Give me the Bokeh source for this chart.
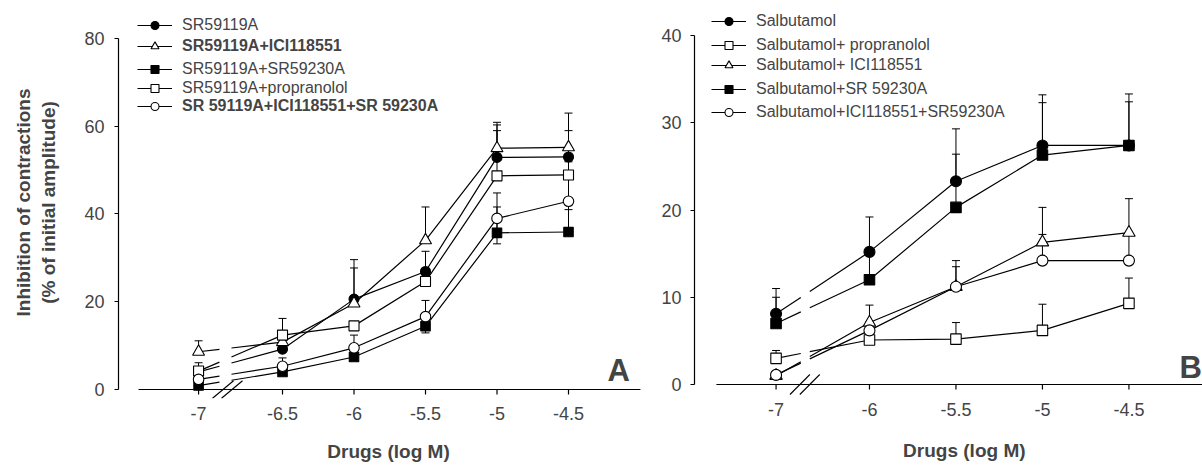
from bokeh.plotting import figure
from bokeh.models import (ColumnDataSource, Whisker, TeeHead, FixedTicker,
                          Legend, LegendItem, Label)
from bokeh.layouts import row
from bokeh.embed import file_html
from bokeh.resources import INLINE

FONT = "Liberation Sans"

# ---------------- Panel A data ----------------
doses_a = [-7, -6.5, -6, -5.5, -5, -4.5]
tick_labels_a = ["-7", "-6.5", "-6", "-5.5", "-5", "-4.5"]
yticks_a = [0, 20, 40, 60, 80]
names_a = ["SR59119A", "SR59119A+ICI118551", "SR59119A+SR59230A",
           "SR59119A+propranolol", "SR 59119A+ICI118551+SR 59230A"]
sr = [4.0, 9.2, 20.6, 26.9, 52.9, 53.0]
sr_err = [0.5, 1.0, 9.0, 4.6, 7.4, 6.0]
sr_ici = [8.6, 10.8, 19.6, 34.0, 55.0, 55.2]
sr_ici_err = [2.5, 1.0, 8.1, 7.6, 5.9, 7.8]
sr_sr = [0.9, 4.0, 7.4, 14.4, 35.7, 35.9]
sr_sr_err = [0.5, 0.5, 0.8, 1.0, 5.9, 5.1]
sr_prop = [4.2, 12.4, 14.5, 24.6, 48.7, 48.9]
sr_prop_err = [1.9, 3.8, 1.0, 1.5, 10.3, 3.0]
sr_ici_sr = [2.3, 5.3, 9.5, 16.6, 39.0, 42.9]
sr_ici_sr_err = [0.5, 1.9, 2.9, 3.7, 5.8, 6.0]

# ---------------- Panel B data ----------------
doses_b = [-7, -6, -5.5, -5, -4.5]
tick_labels_b = ["-7", "-6", "-5.5", "-5", "-4.5"]
yticks_b = [0, 10, 20, 30, 40]
names_b = ["Salbutamol", "Salbutamol+ propranolol", "Salbutamol+ ICI118551",
           "Salbutamol+SR 59230A", "Salbutamol+ICI118551+SR59230A"]
salb = [8.1, 15.2, 23.3, 27.4, 27.4]
salb_err = [2.9, 4.0, 6.0, 5.8, 5.9]
salb_prop = [3.0, 5.1, 5.2, 6.2, 9.3]
salb_prop_err = [0.9, 0.5, 1.9, 3.0, 2.9]
salb_ici = [1.0, 7.1, 11.2, 16.3, 17.4]
salb_ici_err = [0.5, 2.0, 3.0, 4.0, 3.9]
salb_sr = [7.0, 12.0, 20.3, 26.3, 27.4]
salb_sr_err = [3.0, 3.0, 6.1, 6.0, 5.0]
salb_ici_sr = [1.1, 6.2, 11.2, 14.2, 14.2]
salb_ici_sr_err = [0.3, 1.0, 2.3, 3.0, 3.0]

X_TITLE = "Drugs (log M)"
Y_TITLE = "Inhibition of contractions\n(% of initial amplitude)"
NBSP = "\u00a0"


def shown(doses, first_pos):
    # broken axis: the lowest dose is drawn at first_pos
    return [first_pos if d == doses[0] else d for d in doses]


def gapped(xs, ys, g0, g1):
    x0, x1, y0, y1 = xs[0], xs[1], ys[0], ys[1]
    ya = y0 + (y1 - y0) * (g0 - x0) / (x1 - x0)
    yb = y0 + (y1 - y0) * (g1 - x0) / (x1 - x0)
    return [[x0, g0], [g1] + xs[1:]], [[y0, ya], [yb] + list(ys[1:])]


def make_panel(width, height, xr, yr, mb_left, mb_right, mb_bottom,
               doses, tick_labels, yticks, first_pos, gap, axis_span,
               tick_len, slash_cx, slash_dx, slash_dy,
               series, names, bold, sizes, leg_x, leg_y, ylabel,
               y_standoff, tick_standoff, xtitle, title_standoff,
               letter, letter_xy):
    p = figure(width=width, height=height, x_range=xr, y_range=yr,
               output_backend="svg", toolbar_location=None, tools="",
               min_border_left=mb_left, min_border_right=mb_right,
               min_border_top=6, min_border_bottom=mb_bottom)
    p.xgrid.visible = False
    p.ygrid.visible = False
    p.outline_line_color = None
    p.background_fill_color = "white"
    p.border_fill_color = "white"

    xs = shown(doses, first_pos)

    # y axis
    ya = p.yaxis[0]
    ya.ticker = FixedTicker(ticks=yticks)
    ya.major_label_overrides = {t: str(t) for t in yticks}
    ya.bounds = (yticks[0], yticks[-1])
    ya.axis_line_width = 1.2
    ya.major_tick_out = 4
    ya.major_tick_in = 0
    ya.major_tick_line_width = 1.2
    ya.minor_tick_line_color = None
    ya.major_label_standoff = y_standoff
    ya.major_label_text_font = FONT
    ya.major_label_text_font_size = "18px"
    if ylabel:
        ya.axis_label = ylabel
        ya.axis_label_text_font = FONT
        ya.axis_label_text_font_size = "19px"
        ya.axis_label_text_font_style = "bold"
        ya.axis_label_standoff = 22

    # x axis (labels by Bokeh, rule drawn at y = 0)
    xa = p.xaxis[0]
    xa.ticker = FixedTicker(ticks=xs)
    xa.major_label_overrides = {x: lab for x, lab in zip(xs, tick_labels)}
    xa.axis_line_color = None
    xa.major_tick_line_color = None
    xa.major_tick_out = 0
    xa.major_tick_in = 0
    xa.minor_tick_line_color = None
    xa.major_label_standoff = tick_standoff
    xa.major_label_text_font = FONT
    xa.major_label_text_font_size = "18px"
    xa.axis_label = xtitle
    xa.axis_label_text_font = FONT
    xa.axis_label_text_font_size = "19px"
    xa.axis_label_text_font_style = "bold"
    xa.axis_label_standoff = title_standoff

    p.segment(x0=[axis_span[0]], y0=[0], x1=[axis_span[1]], y1=[0],
              line_color="black", line_width=1.2)
    p.segment(x0=xs, y0=[0] * len(xs), x1=xs, y1=[-tick_len] * len(xs),
              line_color="black", line_width=1.2)
    # axis break marks
    p.segment(x0=[c - slash_dx for c in slash_cx], y0=[-slash_dy] * 2,
              x1=[c + slash_dx for c in slash_cx], y1=[slash_dy] * 2,
              line_color="black", line_width=1.1)

    renderers = []
    for (vals, errs, marker, fill, two_sided), size in zip(series, sizes):
        upper = [v + e for v, e in zip(vals, errs)]
        lower = [v - e for v, e in zip(vals, errs)] if two_sided else list(vals)
        src = ColumnDataSource(dict(x=xs, lower=lower, upper=upper))
        w = Whisker(source=src, base="x", lower="lower", upper="upper",
                    line_color="black", line_width=1,
                    upper_head=TeeHead(size=8, line_color="black", line_width=1),
                    lower_head=(TeeHead(size=8, line_color="black", line_width=1)
                                if two_sided else None))
        p.add_layout(w)
        mxs, mys = gapped(xs, vals, gap[0], gap[1])
        lr = p.multi_line(xs=mxs, ys=mys, line_color="black", line_width=1.2)
        renderers.append((lr, vals, marker, fill, size))

    scat = []
    for lr, vals, marker, fill, size in renderers:
        s_r = p.scatter(xs, vals, marker=marker, size=size, fill_color=fill,
                        line_color="black", line_width=1.1)
        scat.append((lr, s_r))

    for i, name in enumerate(names):
        lr, s_r = scat[i]
        leg = Legend(items=[LegendItem(label=name, renderers=[lr, s_r])],
                     location=(leg_x, leg_y[i]), padding=0, margin=0, spacing=0,
                     border_line_color=None, background_fill_alpha=0,
                     glyph_width=35, glyph_height=20, label_height=20,
                     label_standoff=10, label_text_font=FONT,
                     label_text_font_size="16px",
                     label_text_font_style="bold" if bold[i] else "normal",
                     label_text_baseline="middle")
        p.add_layout(leg, "center")

    p.add_layout(Label(x=letter_xy[0], y=letter_xy[1], text=letter,
                       text_font=FONT, text_font_size="31px",
                       text_font_style="bold", text_baseline="alphabetic"))
    return p


series_a = [
    (sr, sr_err, "circle", "black", False),
    (sr_ici, sr_ici_err, "triangle", "white", False),
    (sr_sr, sr_sr_err, "square", "black", False),
    (sr_prop, sr_prop_err, "square", "white", False),
    (sr_ici_sr, sr_ici_sr_err, "circle", "white", True),
]
p1 = make_panel(
    658, 466, (-7.647, -3.8706), (-2.051, 87.293), 118, 0, 68,
    doses_a, tick_labels_a, yticks_a, -7.087, (-6.941, -6.857),
    (-7.507, -3.997), 1.14, [-6.916, -6.853], 0.0734, 2.0,
    series_a, names_a, [False, True, False, False, True],
    [10, 12, 9.5, 10, 10.5], 19, [363, 342, 319, 300, 282],
    Y_TITLE, 10, 8, X_TITLE, 18,
    "A", (-4.227, 4.3))

series_b = [
    (salb, salb_err, "circle", "black", False),
    (salb_prop, salb_prop_err, "square", "white", False),
    (salb_ici, salb_ici_err, "triangle", "white", False),
    (salb_sr, salb_sr_err, "square", "black", False),
    (salb_ici_sr, salb_ici_sr_err, "circle", "white", False),
]
p2 = make_panel(
    544, 466, (-7.0115, -4.0747), (-1.6046, 43.324), 33, 0, 68,
    doses_b, tick_labels_b, yticks_b, -6.540, (-6.397, -6.345),
    (-6.885, -4.0747), 0.573, [-6.402, -6.345], 0.0575, 1.146,
    series_b, names_b, [False] * 5,
    [11, 10.5, 12.5, 10.5, 11], 17, [367, 343, 323, 299, 276],
    None, 9, 4, NBSP * 6 + X_TITLE, 21,
    "B", (-4.207, 1.95))

layout = row(p1, p2)
open("out.html", "w").write(file_html(layout, INLINE))
